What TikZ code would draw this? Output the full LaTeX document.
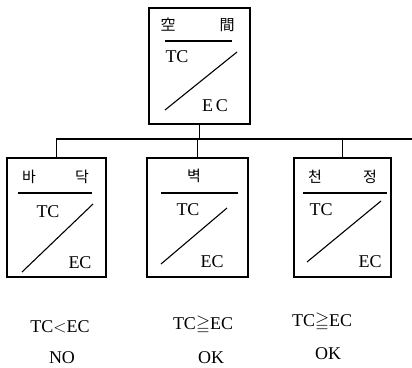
\documentclass[tikz,border=0pt]{standalone}
\usepackage{amssymb}
\usepackage{fontspec}
\setmainfont{Liberation Serif}
\newfontfamily\krfont{Noto Sans CJK KR}
\begin{document}
\begin{tikzpicture}[x=1pt,y=-1pt,
  box/.style={draw,line width=1.3pt,rectangle,inner sep=0pt},
  rule/.style={line width=1.6pt},
  diag/.style={line width=1.1pt},
  wire/.style={line width=1.2pt},
  lbl/.style={inner sep=0pt,font=\fontsize{18}{20}\selectfont},
  hdr/.style={inner sep=0pt,font=\krfont\fontsize{15}{17}\selectfont},
  res/.style={inner sep=0pt,font=\fontsize{18}{20}\selectfont}]
\useasboundingbox (0,0) rectangle (412,367);
% boxes
\node[box,minimum width=101pt,minimum height=116pt] (top) at (199.5,66) {};
\node[box,minimum width=99pt,minimum height=119pt] (floor) at (56.5,217.5) {};
\node[box,minimum width=101pt,minimum height=119pt] (wall) at (197.5,217.5) {};
\node[box,minimum width=97pt,minimum height=119pt] (ceil) at (342.5,217.5) {};
% connectors
\coordinate (busend) at (412,139);
\draw[wire] (floor.north) |- (busend);
\draw[wire] (top.south) -- (top.south |- busend);
\draw[wire] (wall.north) -- (wall.north |- busend);
\draw[wire] (ceil.north) -- (ceil.north |- busend);
% top box
\node[hdr] (t1) at (168,25) {空};
\node[hdr] (t2) at (227,25) {間};
\draw[rule] (165,41) -- (232,41);
\node[lbl] (ttc) at (177,57) {TC};
\node[lbl] (tec) at (215,106) {E\,C};
\draw[diag] (165,110) -- (237,52);
% floor box
\node[hdr] (f1) at (29,177) {바};
\node[hdr] (f2) at (82,177) {닥};
\draw[rule] (18,193) -- (92,193);
\node[lbl] (ftc) at (48,212) {TC};
\node[lbl] (fec) at (80,263) {EC};
\draw[diag] (22,272) -- (93,204);
% wall box
\node[hdr] (w1) at (194,176) {벽};
\draw[rule] (161,193) -- (238,193);
\node[lbl] (wtc) at (188,210) {TC};
\node[lbl] (wec) at (212,262) {EC};
\draw[diag] (161,264) -- (227,208);
% ceiling box
\node[hdr] (c1) at (315,177) {천};
\node[hdr] (c2) at (370,177) {정};
\draw[rule] (303,193) -- (387,193);
\node[lbl] (ctc) at (321,210) {TC};
\node[lbl] (cec) at (370,262) {EC};
\draw[diag] (307,262) -- (381,201);
% results
\node[res] (r1) at (60,327) {TC$<$EC};
\node[res] (n1) at (62,358) {NO};
\node[res] (r2) at (203,325) {TC$\geqq$EC};
\node[res] (n2) at (211,358) {OK};
\node[res] (r3) at (322,322) {TC$\geqq$EC};
\node[res] (n3) at (328,354) {OK};
\end{tikzpicture}
\end{document}
